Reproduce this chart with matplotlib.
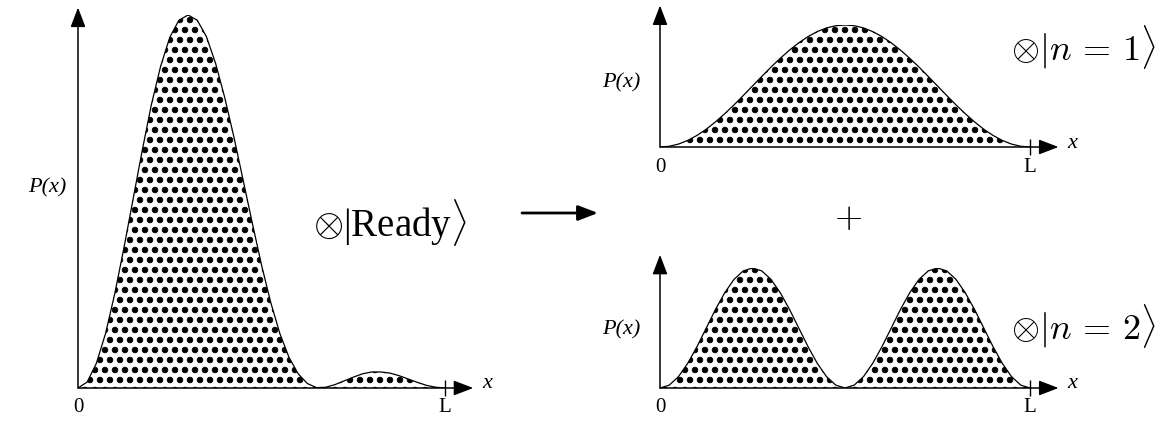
import matplotlib
matplotlib.use("Agg")
import matplotlib.pyplot as plt
import matplotlib.hatch as mhatch

plt.rcParams['font.family'] = ['Liberation Serif', 'DejaVu Serif']
plt.rcParams['mathtext.fontset'] = 'custom'
plt.rcParams['mathtext.rm'] = 'Liberation Serif'
plt.rcParams['mathtext.it'] = 'Liberation Serif:italic'
plt.rcParams['mathtext.fallback'] = 'cm'
plt.rcParams['hatch.linewidth'] = 0.6


# bigger, sparser stipple dots than the stock '.' hatch
class BigDots(mhatch.Circles):
    size = 0.28
    filled = True

    def __init__(self, hatch, density):
        self.num_rows = hatch.count('.') * 10
        super().__init__(hatch, density)


mhatch._hatch_types = [BigDots if c is mhatch.SmallFilledCircles else c
                       for c in mhatch._hatch_types]

# positions along the box, in units of L
x_pos = [0, .025, .05, .075, .1, .125, .15, .175, .2, .225, .25, .275, .3, .325, .35,
         .375, .4, .425, .45, .475, .5, .525, .55, .575, .6, .625, .65, .675, .7,
         .725, .75, .775, .8, .825, .85, .875, .9, .925, .95, .975, 1.0]

# P(x) (scaled so the highest point = 1)
ready_p = [0, .016, .066, .146, .252, .375, .506, .637, .760, .862, .940, .986, 1.0,
           .986, .942, .870, .778, .672, .557, .442, .330, .230, .146, .082, .038,
           .012, .001, .002, .009, .019, .029, .038, .043, .043, .040, .033, .024,
           .015, .007, .002, 0]
n1_p = [0, .006, .024, .054, .095, .146, .206, .273, .345, .422, .500, .578, .655,
        .727, .794, .854, .905, .946, .976, .994, 1.0, .994, .976, .946, .905, .854,
        .794, .727, .655, .578, .500, .422, .345, .273, .206, .146, .095, .054, .024,
        .006, 0]
n2_p = [0, .024, .095, .206, .345, .500, .655, .794, .905, .976, 1.0, .976, .905,
        .794, .655, .500, .345, .206, .095, .024, 0, .024, .095, .206, .345, .500,
        .655, .794, .905, .976, 1.0, .976, .905, .794, .655, .500, .345, .206, .095,
        .024, 0]

W, H = 1165, 424
fig = plt.figure(figsize=(W/100, H/100), dpi=100)


def fx(px):
    return px/W


def fy(py):
    return 1-py/H


def panel(x0, x1, base, peak, xs, ps, ytop):
    ax = fig.add_axes([fx(x0), fy(base), fx(x1-x0), (base-peak)/H])
    ax.set_xlim(0, 1)
    ax.set_ylim(0, 1)
    ax.axis('off')
    ax.fill_between(xs, ps, 0, facecolor='white', edgecolor='black',
                    hatch='.', linewidth=0)
    ax.plot(xs, ps, color='black', lw=0.9)
    arr = dict(arrowstyle='-|>,head_length=0.6,head_width=0.23', mutation_scale=20,
               lw=1.1, color='black', shrinkA=0, shrinkB=0)
    ax.annotate('', xy=(1.077, 0), xytext=(0, 0), arrowprops=arr, annotation_clip=False)
    ax.annotate('', xy=(0, ytop), xytext=(0, 0), arrowprops=arr, annotation_clip=False)
    ax.plot([1], [0], marker='|', ms=11, mew=1, color='black', clip_on=False)
    ax.annotate('0', xy=(0, 0), xytext=(0, -20), textcoords='offset pixels',
                ha='center', va='center', fontsize=15)
    ax.annotate('L', xy=(1, 0), xytext=(0, -20), textcoords='offset pixels',
                ha='center', va='center', fontsize=15)
    ax.annotate('x', xy=(1, 0), xytext=(42, 4), textcoords='offset pixels',
                ha='center', va='center', fontsize=16, style='italic')
    return ax


panel(78, 445, 388, 15, x_pos, ready_p, 1.02)
panel(660, 1030, 147, 25, x_pos, n1_p, 1.16)
panel(660, 1030, 388, 268, x_pos, n2_p, 1.11)

fig.text(fx(47), fy(188), 'P(x)', ha='center', va='center', fontsize=16, style='italic')
fig.text(fx(621), fy(83), 'P(x)', ha='center', va='center', fontsize=16, style='italic')
fig.text(fx(621), fy(330), 'P(x)', ha='center', va='center', fontsize=16, style='italic')

fig.text(fx(390), fy(222), r'$\otimes|\mathrm{Ready}\rangle$', ha='center', va='center',
         fontsize=28)
fig.text(fx(1083), fy(47), r'$\otimes|n\,=\,1\rangle$', ha='center', va='center',
         fontsize=26, math_fontfamily='cm')
fig.text(fx(1083), fy(326), r'$\otimes|n\,=\,2\rangle$', ha='center', va='center',
         fontsize=26, math_fontfamily='cm')
fig.text(fx(848), fy(218), r'$+$', ha='center', va='center', fontsize=26,
         math_fontfamily='cm')

fig.add_artist(matplotlib.patches.FancyArrowPatch(
    (fx(522), fy(213)), (fx(598), fy(213)), transform=fig.transFigure,
    arrowstyle='-|>,head_length=0.6,head_width=0.23', mutation_scale=20,
    lw=2, color='black', shrinkA=0, shrinkB=0))

fig.savefig('out.png', dpi=100)
